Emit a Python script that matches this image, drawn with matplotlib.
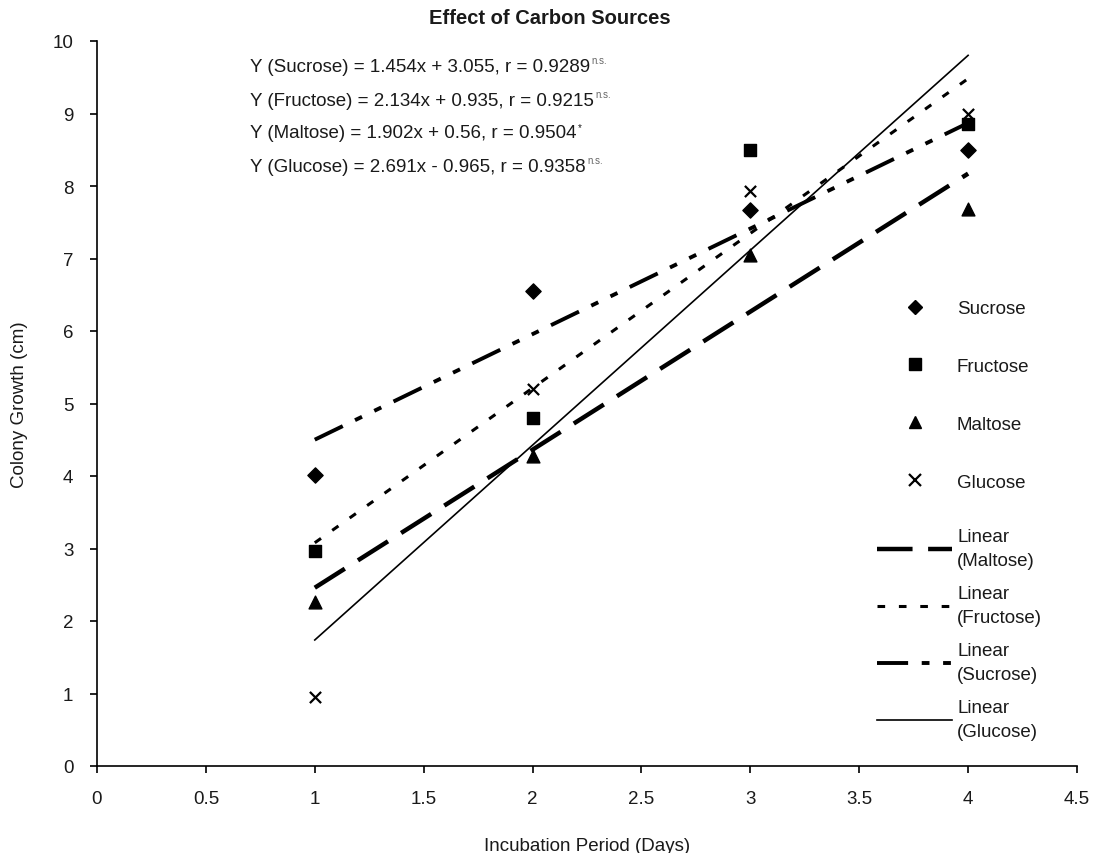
import numpy as np
import matplotlib
matplotlib.use("Agg")
import matplotlib.pyplot as plt
from matplotlib.lines import Line2D

plt.rcParams['font.family'] = ['Liberation Sans', 'DejaVu Sans']

days = [1, 2, 3, 4]
sucrose = [4.02, 6.55, 7.67, 8.50]
fructose = [2.97, 4.80, 8.50, 8.85]
maltose = [2.26, 4.27, 7.05, 7.68]
glucose = [0.95, 5.20, 7.93, 9.00]

equations = [
    ("Y (Sucrose) = 1.454x + 3.055, r = 0.9289", "n.s."),
    ("Y (Fructose) = 2.134x + 0.935, r = 0.9215", "n.s."),
    ("Y (Maltose) = 1.902x + 0.56, r = 0.9504", "*"),
    ("Y (Glucose) = 2.691x - 0.965, r = 0.9358", "n.s."),
]

W, H = 1099, 854
fig = plt.figure(figsize=(W/100, H/100), dpi=100)
ax = fig.add_axes([97/W, 1-767/H, (1077-97)/W, (767-42)/H])

tc = '#1a1a1a'
FS = 13.5
ax.scatter(days, sucrose, marker='D', s=60, color='black', zorder=3)
ax.scatter(days, fructose, marker='s', s=70, color='black', zorder=3)
ax.scatter(days, maltose, marker='^', s=85, color='black', zorder=3)
ax.scatter(days, glucose, marker='x', s=65, color='black', linewidths=1.6, zorder=3)

x = np.array(days, dtype=float)
def fit(y):
    m, b = np.polyfit(x, y, 1)
    return m * x + b

styles = {
    'maltose': dict(lw=3.2, dashes=(8, 3.5)),
    'fructose': dict(lw=2.2, dashes=(2.5, 4.5)),
    'sucrose': dict(lw=2.8, dashes=(8, 3.5, 2, 3.5, 2, 3.5)),
    'glucose': dict(lw=1.2, linestyle='-'),
}
ax.plot(x, fit(maltose), color='black', **styles['maltose'])
ax.plot(x, fit(fructose), color='black', **styles['fructose'])
ax.plot(x, fit(sucrose), color='black', **styles['sucrose'])
ax.plot(x, fit(glucose), color='black', **styles['glucose'])

ax.set_xlim(0, 4.5)
ax.set_ylim(0, 10)
ax.set_xticks(np.arange(0, 4.51, 0.5))
ax.set_xticklabels(['0', '0.5', '1', '1.5', '2', '2.5', '3', '3.5', '4', '4.5'])
ax.set_yticks(range(0, 11))
for s in ['top', 'right']:
    ax.spines[s].set_visible(False)
for s in ['left', 'bottom']:
    ax.spines[s].set_linewidth(1.2)
ax.tick_params(direction='out', length=5, width=1.2, labelsize=FS, colors='black', labelcolor=tc, pad=12)

ax.set_xlabel('Incubation Period (Days)', fontsize=FS, color=tc, labelpad=22)
ax.set_ylabel('Colony Growth (cm)', fontsize=FS, color=tc, labelpad=18)
fig.text(0.5, 1-18/H, 'Effect of Carbon Sources', fontsize=14.5, fontweight='bold',
         color=tc, ha='center', va='center')

ypos = [67, 101, 134, 167]
for (txt, sup), yp in zip(equations, ypos):
    t = fig.text(250/W, 1-yp/H, txt, fontsize=FS, color=tc, va='center', ha='left')
    ax.annotate(sup, xy=(1, 0.85), xycoords=t, xytext=(1, 0), textcoords='offset points',
                fontsize=7, color='#666666' if sup != '*' else tc, ha='left', va='center')

marker_handles = [
    Line2D([], [], marker='D', color='black', linestyle='none', markersize=7.5),
    Line2D([], [], marker='s', color='black', linestyle='none', markersize=8),
    Line2D([], [], marker='^', color='black', linestyle='none', markersize=9),
    Line2D([], [], marker='x', color='black', linestyle='none', markersize=8, markeredgewidth=1.6),
]
leg1 = ax.legend(marker_handles, ['Sucrose', 'Fructose', 'Maltose', 'Glucose'],
                 loc='upper left', bbox_to_anchor=(896/W, 1-301/H), bbox_transform=fig.transFigure,
                 frameon=False, fontsize=FS, labelspacing=2.17, handlelength=2.0, handletextpad=1.25,
                 borderaxespad=0, borderpad=0)
for t in leg1.get_texts():
    t.set_color(tc)
ax.add_artist(leg1)

line_handles = [
    Line2D([], [], color='black', **styles['maltose']),
    Line2D([], [], color='black', **styles['fructose']),
    Line2D([], [], color='black', **styles['sucrose']),
    Line2D([], [], color='black', **styles['glucose']),
]
leg2 = ax.legend(line_handles, ['Linear\n(Maltose)', 'Linear\n(Fructose)', 'Linear\n(Sucrose)', 'Linear\n(Glucose)'],
                 loc='upper left', bbox_to_anchor=(877/W, 1-529/H), bbox_transform=fig.transFigure,
                 frameon=False, fontsize=FS, labelspacing=0.85, handlelength=4.0, handletextpad=0.27,
                 borderaxespad=0, borderpad=0)
for t in leg2.get_texts():
    t.set_color(tc)
    t.set_linespacing(1.55)

fig.savefig('out.png', dpi=100, facecolor='white')
